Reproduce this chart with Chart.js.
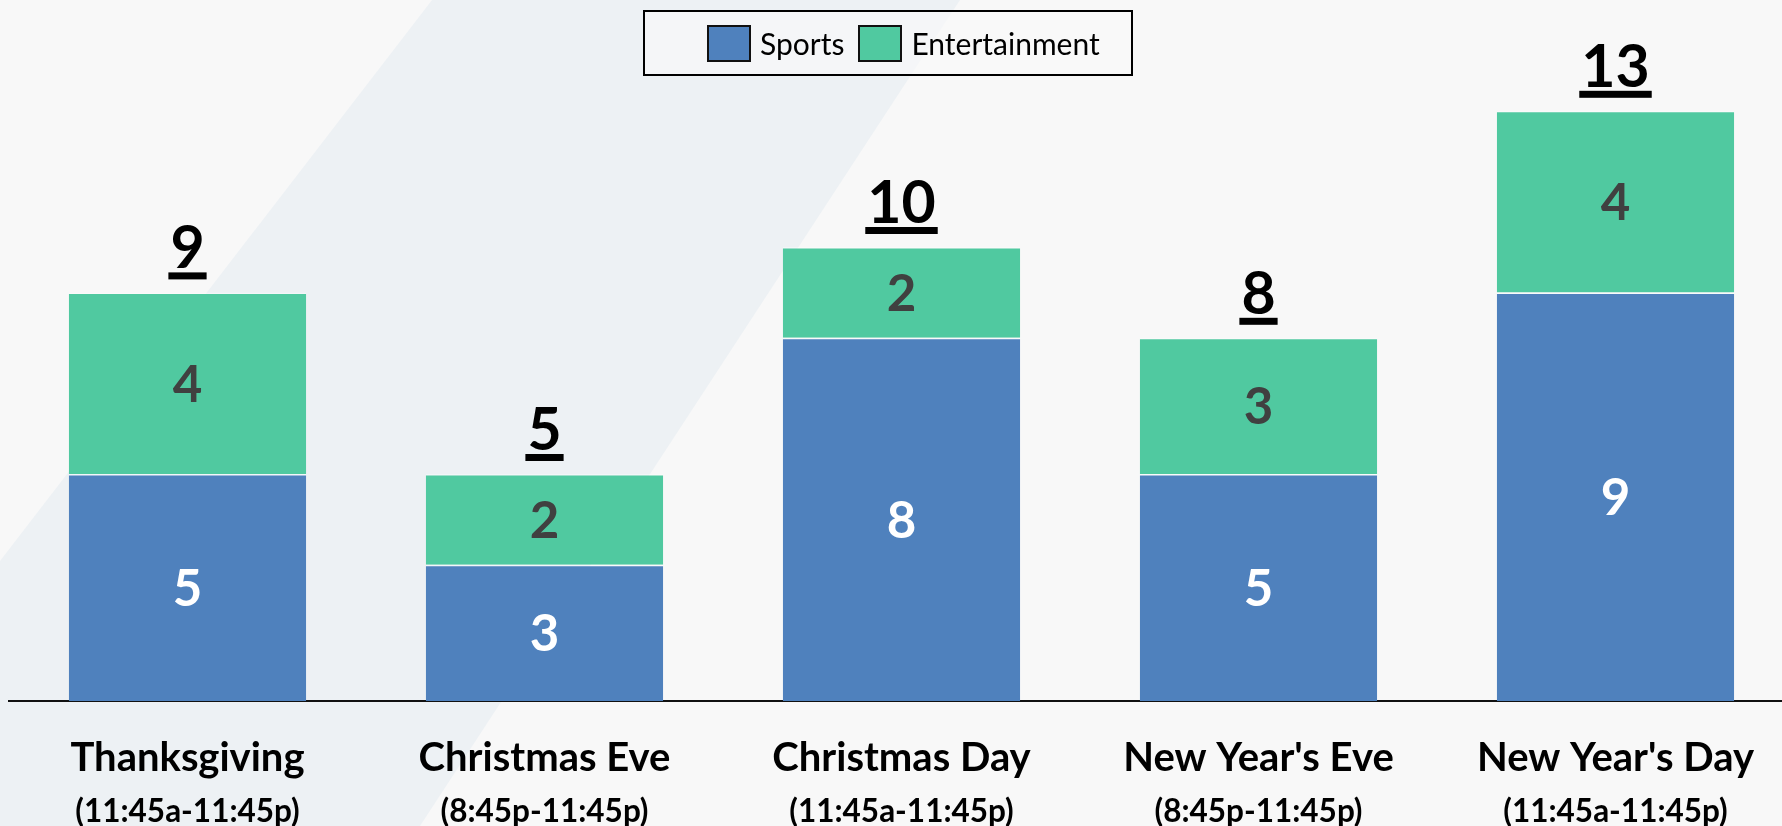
<!DOCTYPE html>
<html>
<head>
<meta charset="utf-8">
<script src="https://cdn.jsdelivr.net/npm/chart.js@4.4.1/dist/chart.umd.min.js"></script>
<style>
  html, body { margin: 0; padding: 0; width: 1782px; height: 826px; overflow: hidden; background: #f8f8f8; font-family: Lato, sans-serif; }
  #band { position: absolute; left: 0; top: 0; width: 1782px; height: 826px; background: #edf1f4;
          clip-path: polygon(432px 0, 960px 0, 420px 826px, 0 826px, 0 561px); }
  #wrap { position: absolute; left: 0; top: 0; width: 1800px; height: 826px; }
  #legend { position: absolute; left: 643px; top: 10px; width: 486px; height: 62px; border: 2.5px solid #000;
            background: rgba(250,250,250,0.6); display: flex; align-items: center; justify-content: flex-start;
            box-sizing: content-box; padding-left: 0; font-size: 30px; color: #000; }
  #legend .sw { width: 40px; height: 33px; border: 2px solid #111; margin-right: 9px; }
  #legend .it { display: flex; align-items: center; margin-right: 14px; }
  #legend .it:first-child { margin-left: 62px; }
</style>
</head>
<body>
<div id="band"></div>
<div id="wrap"><canvas id="chart"></canvas></div>
<div id="legend"></div>
<script>
const categories = ['Thanksgiving', 'Christmas Eve', 'Christmas Day', "New Year's Eve", "New Year's Day"];
const timeRanges = ['(11:45a-11:45p)', '(8:45p-11:45p)', '(11:45a-11:45p)', '(8:45p-11:45p)', '(11:45a-11:45p)'];
const sports = [5, 3, 8, 5, 9];
const entertainment = [4, 2, 2, 3, 4];
const seriesNames = ['Sports', 'Entertainment'];
const seriesColors = ['#4f81bd', '#50c9a0'];
const labelColors = ['#ffffff', '#404040'];

// legend as html
const legend = document.getElementById('legend');
seriesNames.forEach((name, i) => {
    const it = document.createElement('div');
    it.className = 'it';
    it.innerHTML = '<div class="sw" style="background:' + seriesColors[i] + '"></div><span>' + name + '</span>';
    legend.appendChild(it);
});

const barLabels = {
    id: 'barLabels',
    afterDatasetsDraw(chart) {
        const ctx = chart.ctx;
        ctx.save();
        ctx.textAlign = 'center';
        chart.data.datasets.forEach((ds, di) => {
            const meta = chart.getDatasetMeta(di);
            ctx.fillStyle = labelColors[di];
            ctx.font = 'bold 51px Lato';
            ctx.textBaseline = 'middle';
            meta.data.forEach((bar, i) => {
                ctx.fillText(ds.data[i], bar.x, (bar.y + bar.base) / 2 + 2);
            });
        });
        // totals
        const last = chart.getDatasetMeta(chart.data.datasets.length - 1);
        ctx.fillStyle = '#000';
        ctx.font = 'bold 59px Lato';
        ctx.textBaseline = 'alphabetic';
        last.data.forEach((bar, i) => {
            const total = sports[i] + entertainment[i];
            const txt = String(total);
            ctx.fillText(txt, bar.x, bar.y - 24);
            const w = ctx.measureText(txt).width + 4;
            ctx.fillRect(bar.x - w / 2, bar.y - 20, w, 7);
        });
        ctx.restore();
    }
};

const edge = { top: 1.5, left: 0, right: 0, bottom: 0 };

new Chart(document.getElementById('chart'), {
    type: 'bar',
    data: {
        labels: categories,
        datasets: [{
            label: seriesNames[0],
            data: sports,
            backgroundColor: seriesColors[0],
            borderColor: 'rgba(255,255,255,0.35)',
            borderWidth: edge,
            barPercentage: 0.665,
            categoryPercentage: 1
        }, {
            label: seriesNames[1],
            data: entertainment,
            backgroundColor: seriesColors[1],
            borderColor: 'rgba(255,255,255,0.35)',
            borderWidth: edge,
            barPercentage: 0.665,
            categoryPercentage: 1
        }]
    },
    options: {
        responsive: true,
        maintainAspectRatio: false,
        animation: false,
        layout: { padding: { left: 9, right: 6, top: 20, bottom: 0 } },
        plugins: { legend: { display: false }, tooltip: { enabled: false } },
        scales: {
            x: {
                stacked: true,
                grid: { display: false, drawTicks: false },
                border: { display: true, color: '#111', width: 2 },
                ticks: { color: '#000', font: { family: 'Lato', weight: 'bold', size: 40 }, padding: 33 },
                afterFit(s) { s.height = 92; }
            },
            x2: {
                type: 'category',
                labels: timeRanges,
                position: 'bottom',
                offset: true,
                grid: { display: false, drawTicks: false },
                border: { display: false },
                ticks: { color: '#000', font: { family: 'Lato', weight: 'bold', size: 31.5 }, padding: 0 },
                afterFit(s) { s.height = 33; }
            },
            y: {
                stacked: true,
                display: false,
                min: 0,
                max: 15
            }
        }
    },
    plugins: [barLabels]
});
</script>
</body>
</html>
